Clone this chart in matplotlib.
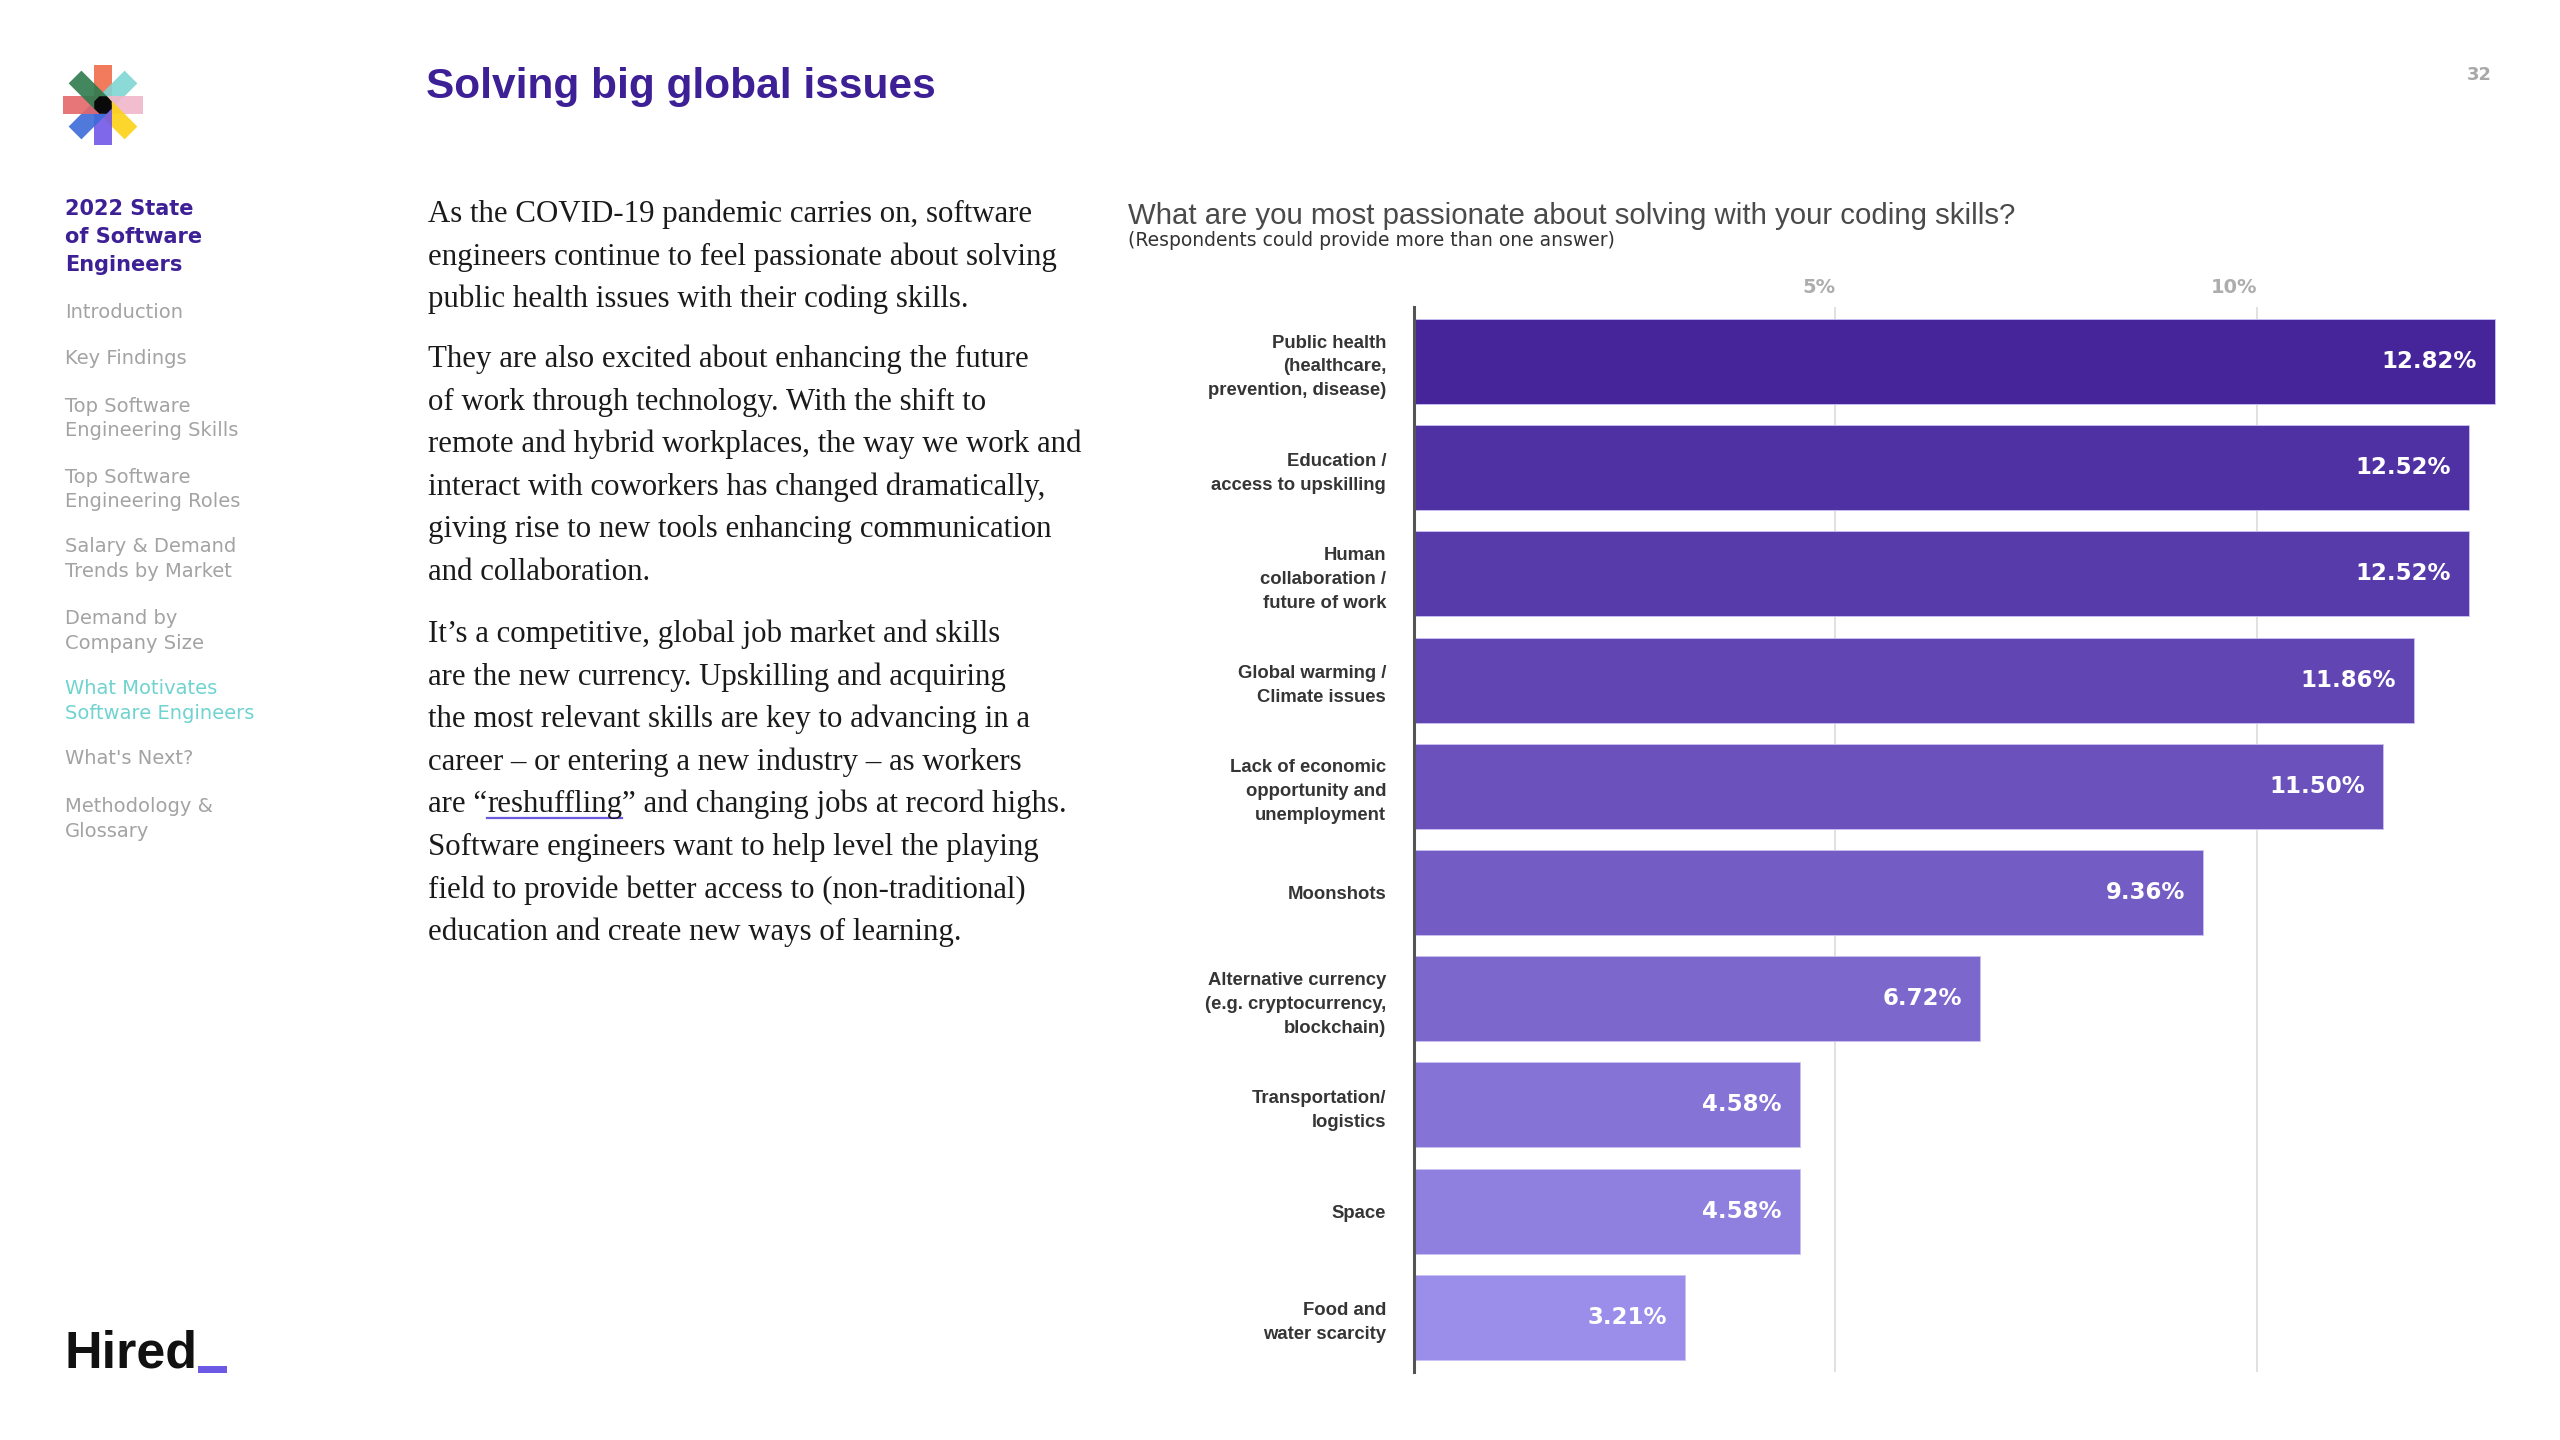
import matplotlib
matplotlib.use("Agg")
import matplotlib.pyplot as plt
from matplotlib.patches import Polygon, Rectangle, RegularPolygon
from matplotlib.lines import Line2D
import numpy as np

# ---------------- data ----------------
categories = [
    "Public health\n(healthcare,\nprevention, disease)",
    "Education /\naccess to upskilling",
    "Human\ncollaboration /\nfuture of work",
    "Global warming /\nClimate issues",
    "Lack of economic\nopportunity and\nunemployment",
    "Moonshots",
    "Alternative currency\n(e.g. cryptocurrency,\nblockchain)",
    "Transportation/\nlogistics",
    "Space",
    "Food and\nwater scarcity",
]
values = [12.82, 12.52, 12.52, 11.86, 11.50, 9.36, 6.72, 4.58, 4.58, 3.21]
value_labels = ["12.82%", "12.52%", "12.52%", "11.86%", "11.50%",
                "9.36%", "6.72%", "4.58%", "4.58%", "3.21%"]
bar_colors = ["#46249a", "#4f31a3", "#583bab", "#6146b3", "#6a51bb",
              "#735cc4", "#7c68cd", "#8573d6", "#8f80e0", "#9b8dea"]
tick_values = [5, 10]
tick_labels = ["5%", "10%"]

page_title = "Solving big global issues"
page_number = "32"
chart_title = "What are you most passionate about solving with your coding skills?"
chart_subtitle = "(Respondents could provide more than one answer)"
sidebar_header = ["2022 State", "of Software", "Engineers"]
nav_items = [
    ["Introduction"],
    ["Key Findings"],
    ["Top Software", "Engineering Skills"],
    ["Top Software", "Engineering Roles"],
    ["Salary & Demand", "Trends by Market"],
    ["Demand by", "Company Size"],
    ["What Motivates", "Software Engineers"],
    ["What's Next?"],
    ["Methodology &", "Glossary"],
]
nav_active = 6
paragraphs = [
    ["As the COVID-19 pandemic carries on, software",
     "engineers continue to feel passionate about solving",
     "public health issues with their coding skills."],
    ["They are also excited about enhancing the future",
     "of work through technology. With the shift to",
     "remote and hybrid workplaces, the way we work and",
     "interact with coworkers has changed dramatically,",
     "giving rise to new tools enhancing communication",
     "and collaboration."],
    ["It\u2019s a competitive, global job market and skills",
     "are the new currency. Upskilling and acquiring",
     "the most relevant skills are key to advancing in a",
     "career \u2013 or entering a new industry \u2013 as workers",
     "are \u201creshuffling\u201d and changing jobs at record highs.",
     "Software engineers want to help level the playing",
     "field to provide better access to (non-traditional)",
     "education and create new ways of learning."],
]
link_word = "reshuffling"

# ---------------- figure ----------------
W, H = 2560, 1440
fig = plt.figure(figsize=(25.6, 14.4), dpi=100)
fig.patch.set_facecolor("white")


def fx(x):
    return x / W


def fy(y):
    return 1 - y / H


PURPLE = "#3d1f96"
SANS = ["DejaVu Sans"]
ARIAL = ["Liberation Sans", "DejaVu Sans"]
SERIF = ["Liberation Serif", "DejaVu Serif"]

# page title & number
fig.text(fx(426), fy(98), page_title, fontsize=30.5, fontweight="bold",
         color=PURPLE, family=ARIAL, va="baseline", ha="left")
fig.text(fx(2479), fy(75), page_number, fontsize=13, fontweight="bold",
         color="#a8a8a8", family=SANS, va="center", ha="center")

# logo asterisk
lax = fig.add_axes([fx(60), fy(148), 86 / W, 86 / H])
lax.set_xlim(-1, 1)
lax.set_ylim(-1, 1)
lax.set_aspect("equal")
lax.axis("off")
arm_colors = {90: "#f26d4b", 45: "#7fd6d3", 0: "#f1b7ca", -45: "#fcd116",
              -90: "#7157e8", -135: "#3c6bd6", 180: "#e5676b", 135: "#2e7a4e"}
arm_len, arm_w = 0.92, 0.42
for ang, col in arm_colors.items():
    t = np.deg2rad(ang)
    d = np.array([np.cos(t), np.sin(t)])
    n = np.array([-d[1], d[0]])
    pts = [n * arm_w / 2, n * arm_w / 2 + d * arm_len,
           -n * arm_w / 2 + d * arm_len, -n * arm_w / 2]
    lax.add_patch(Polygon(pts, closed=True, facecolor=col, edgecolor="none", alpha=0.9))
lax.add_patch(RegularPolygon((0, 0), 8, radius=0.22, orientation=np.pi / 8,
                             facecolor="#0a0a0a", edgecolor="none"))

# sidebar
for i, line in enumerate(sidebar_header):
    fig.text(fx(65), fy(209 + 28 * i), line, fontsize=15, fontweight="bold",
             color=PURPLE, family=SANS, va="center", ha="left")
nav_y = [313, 359, 406, 477, 547, 619, 689, 759, 807]
for k, item in enumerate(nav_items):
    col = "#6fd3d0" if k == nav_active else "#a3a3a3"
    for j, line in enumerate(item):
        fig.text(fx(65), fy(nav_y[k] + 24.5 * j), line, fontsize=14,
                 color=col, family=SANS, va="center", ha="left")

# body text
para_start = [222, 367, 642]
line_step = 42.6
BODY = 22.2
renderer = fig.canvas.get_renderer()
for p, lines in enumerate(paragraphs):
    for j, line in enumerate(lines):
        yb = para_start[p] + line_step * j
        if link_word in line:
            pre, post = line.split(link_word)
            t1 = fig.text(fx(428), fy(yb), pre, fontsize=BODY, color="#1a1a1a",
                          family=SERIF, va="baseline", ha="left")
            bb1 = t1.get_window_extent(renderer)
            t2 = fig.text(bb1.x1 / W, fy(yb), link_word, fontsize=BODY, color="#1a1a1a",
                          family=SERIF, va="baseline", ha="left")
            bb2 = t2.get_window_extent(renderer)
            fig.text(bb2.x1 / W, fy(yb), post, fontsize=BODY, color="#1a1a1a",
                     family=SERIF, va="baseline", ha="left")
            fig.add_artist(Line2D([bb2.x0 / W, bb2.x1 / W], [fy(yb + 6), fy(yb + 6)],
                                  transform=fig.transFigure, color="#6a5ae0", lw=1.6))
        else:
            fig.text(fx(428), fy(yb), line, fontsize=BODY, color="#1a1a1a",
                     family=SERIF, va="baseline", ha="left")

# chart title
fig.text(fx(1128), fy(216), chart_title, fontsize=21.2, color="#4a4a4a",
         family=ARIAL, va="center", ha="left")
fig.text(fx(1128), fy(240), chart_subtitle, fontsize=13.5, color="#333333",
         family=SANS, va="center", ha="left")

# chart
ax = fig.add_axes([fx(1414), fy(1372), 1100 / W, 1065 / H])
ypos = np.arange(len(values))
ax.barh(ypos, values, height=0.8, color=bar_colors, edgecolor="#cbc2f3",
        linewidth=0.6, zorder=3)
ax.set_xlim(0, 13.05)
ax.set_ylim(9.515, -0.513)
ax.set_xticks(tick_values)
ax.set_xticklabels(tick_labels)
ax.xaxis.tick_top()
ax.tick_params(axis="x", length=0, pad=7, labelsize=14, labelcolor="#adadad")
for lbl in ax.get_xticklabels():
    lbl.set_ha("right")
    lbl.set_fontweight("bold")
    lbl.set_family(SANS)
ax.grid(axis="x", color="#dcdcdc", lw=1.2, zorder=0)
ax.set_yticks(ypos)
ax.set_yticklabels(categories, fontsize=13.3, fontweight="bold", color="#353535",
                   linespacing=1.53, family=ARIAL)
ax.tick_params(axis="y", length=0, pad=20)
for s in ["top", "right", "bottom"]:
    ax.spines[s].set_visible(False)
ax.spines["left"].set_color("#555555")
ax.spines["left"].set_linewidth(2.2)
ax.spines["left"].set_zorder(5)
ax.set_facecolor("none")
for i, v in enumerate(values):
    ax.annotate(value_labels[i], (v, ypos[i]), xytext=(-13, 0),
                textcoords="offset points", ha="right", va="center",
                color="white", fontsize=16.5, fontweight="bold", family=SANS, zorder=6)

# Hired logo
fig.text(fx(65), fy(1367), "Hired", fontsize=37.5, fontweight="bold", color="#111111",
         family=ARIAL, va="baseline", ha="left")
fig.add_artist(Rectangle((fx(198), fy(1373)), 29 / W, 7 / H, transform=fig.transFigure,
                         facecolor="#6c5ae6", edgecolor="none"))

fig.savefig("out.png", dpi=100, facecolor="white")
